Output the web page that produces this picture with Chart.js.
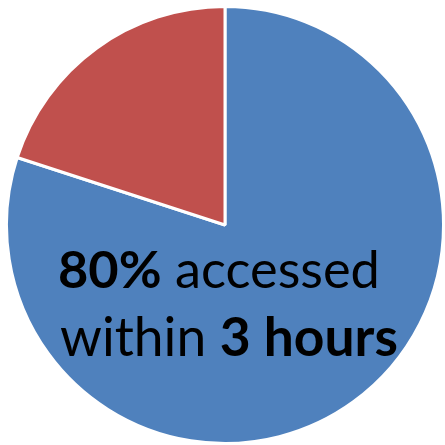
<!DOCTYPE html>
<html>
<head>
<meta charset="utf-8">
<script src="https://cdn.jsdelivr.net/npm/chart.js@4"></script>
<style>
html,body{margin:0;padding:0;background:#fff;}
#wrap{width:445px;height:445px;}
</style>
</head>
<body>
<div id="wrap"><canvas id="c" width="445" height="445"></canvas></div>
<script>
const categories = ['Accessed within 3 hours', 'Accessed later'];
const values = [80, 20];
const colors = ['#4F81BD', '#C0504D'];
const annotationLines = [
  [{t: '80%', b: true}, {t: ' accessed', b: false}],
  [{t: 'within ', b: false}, {t: '3 hours', b: true}]
];

const textPlugin = {
  id: 'richText',
  afterDraw(chart) {
    const ctx = chart.ctx;
    const fam = 'Lato, "Open Sans", sans-serif';
    const lineX = [58, 60];
    const lineW = [322, 338];
    const lineY = [288, 356];
    ctx.save();
    ctx.fillStyle = '#000';
    ctx.textBaseline = 'alphabetic';
    ctx.textAlign = 'left';
    annotationLines.forEach((line, i) => {
      // measure at base size, then scale to fit target width
      let base = 50, w = 0;
      line.forEach(seg => {
        ctx.font = (seg.b ? 'bold ' : '') + base + 'px ' + fam;
        w += ctx.measureText(seg.t).width;
      });
      const size = base * lineW[i] / w;
      let x = lineX[i];
      line.forEach(seg => {
        ctx.font = (seg.b ? 'bold ' : '') + size + 'px ' + fam;
        ctx.fillText(seg.t, x, lineY[i]);
        x += ctx.measureText(seg.t).width;
      });
    });
    ctx.restore();
  }
};

new Chart(document.getElementById('c'), {
  type: 'pie',
  data: {
    labels: categories,
    datasets: [{
      data: values,
      backgroundColor: colors,
      borderColor: '#ffffff',
      borderWidth: 3
    }]
  },
  options: {
    responsive: false,
    animation: false,
    events: [],
    layout: {padding: {left: 5, top: 5, right: 0, bottom: 0}},
    plugins: {legend: {display: false}, tooltip: {enabled: false}}
  },
  plugins: [textPlugin]
});
</script>
</body>
</html>
